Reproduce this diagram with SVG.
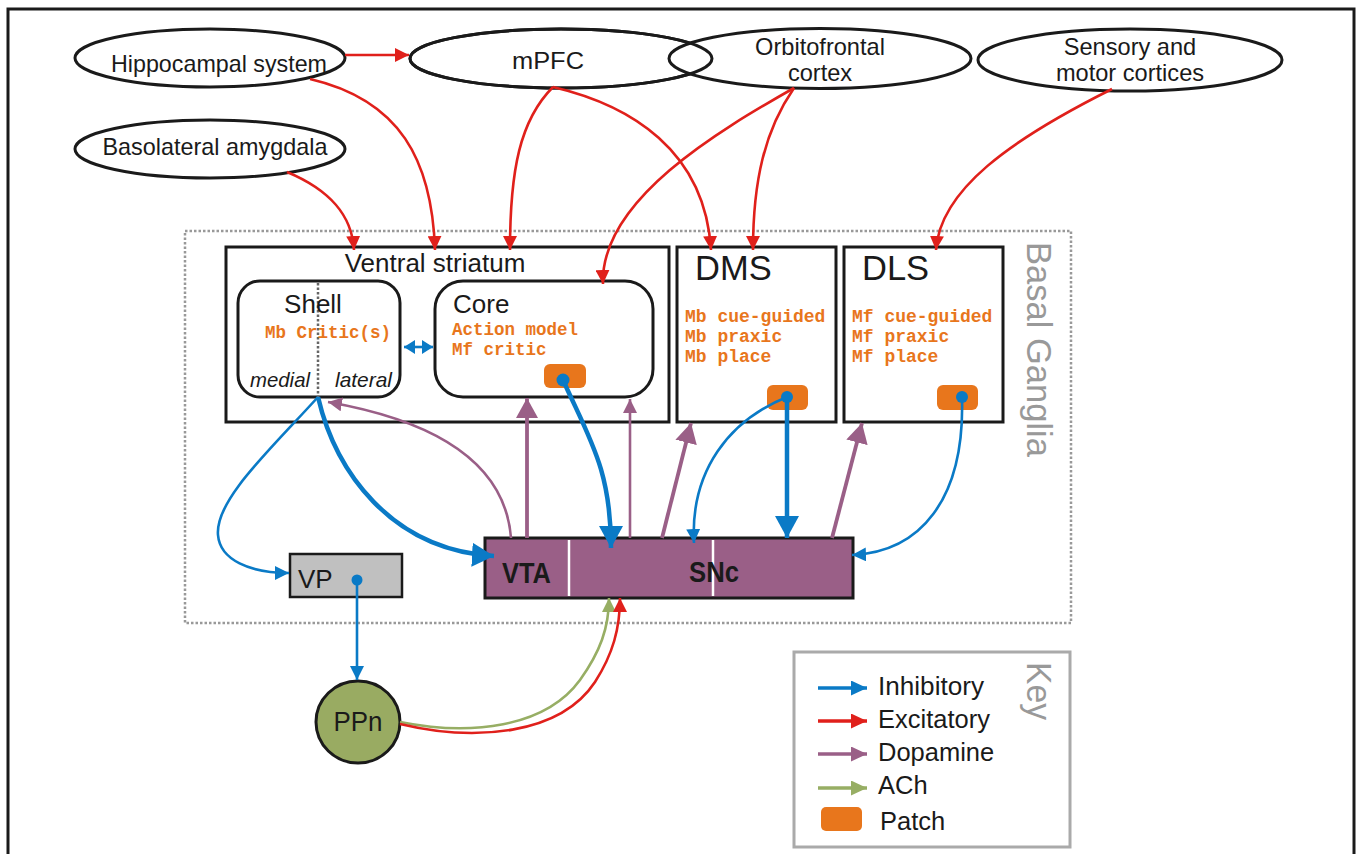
<svg xmlns="http://www.w3.org/2000/svg" width="1357" height="854" viewBox="0 0 1357 854">
<style>
.lbl{font-family:"Liberation Sans",Arial,sans-serif;fill:#1a1a1a}
.ell{fill:#fff;stroke:#1a1a1a;stroke-width:3}
.box{fill:#fff;stroke:#1a1a1a;stroke-width:3}
.mono{font-family:"Liberation Mono","Courier New",monospace;font-weight:bold;fill:#e8761c;font-size:17.5px}
.patch{fill:#e8761c}
.red{fill:none;stroke:#e0201b;stroke-width:2.6}
.blue{fill:none;stroke:#0a7ac6;stroke-width:2.6}
.blueT{fill:none;stroke:#0a7ac6;stroke-width:4.5}
.pur{fill:none;stroke:#9a5f87;stroke-width:2.6}
.purT{fill:none;stroke:#9a5f87;stroke-width:3.8}
.grn{fill:none;stroke:#97ae64;stroke-width:2.6}
.gray{fill:#999}
</style>
<defs>
<marker id="aRed" markerUnits="userSpaceOnUse" markerWidth="14" markerHeight="14" refX="14" refY="7" orient="auto"><path d="M0,0 L14,7 L0,14 z" fill="#e0201b"/></marker>
<marker id="aBlue" markerUnits="userSpaceOnUse" markerWidth="14" markerHeight="14" refX="14" refY="7" orient="auto"><path d="M0,0 L14,7 L0,14 z" fill="#0a7ac6"/></marker>
<marker id="aBlueD" markerUnits="userSpaceOnUse" markerWidth="11" markerHeight="14" refX="11" refY="7" orient="auto-start-reverse"><path d="M0,0 L11,7 L0,14 z" fill="#0a7ac6"/></marker>
<marker id="aBlueB" markerUnits="userSpaceOnUse" markerWidth="22" markerHeight="24" refX="22" refY="12" orient="auto"><path d="M0,0 L22,12 L0,24 z" fill="#0a7ac6"/></marker>
<marker id="aPur" markerUnits="userSpaceOnUse" markerWidth="14" markerHeight="14" refX="14" refY="7" orient="auto"><path d="M0,0 L14,7 L0,14 z" fill="#9a5f87"/></marker>
<marker id="aPurB" markerUnits="userSpaceOnUse" markerWidth="20" markerHeight="22" refX="20" refY="11" orient="auto"><path d="M0,0 L20,11 L0,22 z" fill="#9a5f87"/></marker>
<marker id="aGrn" markerUnits="userSpaceOnUse" markerWidth="14" markerHeight="14" refX="14" refY="7" orient="auto"><path d="M0,0 L14,7 L0,14 z" fill="#97ae64"/></marker>
<marker id="kBlue" markerUnits="userSpaceOnUse" markerWidth="16" markerHeight="15" refX="16" refY="7.5" orient="auto"><path d="M0,0 L16,7.5 L0,15 z" fill="#0a7ac6"/></marker>
<marker id="kRed" markerUnits="userSpaceOnUse" markerWidth="16" markerHeight="15" refX="16" refY="7.5" orient="auto"><path d="M0,0 L16,7.5 L0,15 z" fill="#e0201b"/></marker>
<marker id="kPur" markerUnits="userSpaceOnUse" markerWidth="16" markerHeight="15" refX="16" refY="7.5" orient="auto"><path d="M0,0 L16,7.5 L0,15 z" fill="#9a5f87"/></marker>
<marker id="kGrn" markerUnits="userSpaceOnUse" markerWidth="16" markerHeight="15" refX="16" refY="7.5" orient="auto"><path d="M0,0 L16,7.5 L0,15 z" fill="#97ae64"/></marker>
</defs>
<rect x="0" y="0" width="1357" height="854" fill="#fff"/>
<rect x="8" y="9" width="1346" height="900" fill="none" stroke="#1a1a1a" stroke-width="3"/>

<g id="basal-ganglia">
<rect x="185" y="231" width="886" height="392" fill="none" stroke="#999" stroke-width="2.5" stroke-dasharray="2.5 2"/>
<text class="lbl gray" transform="translate(1027,242) rotate(90)" font-size="35" textLength="215" lengthAdjust="spacingAndGlyphs" style="fill:#999">Basal Ganglia</text>
</g>

<g id="hippocampal">
<ellipse class="ell" cx="210" cy="58" rx="135" ry="29"/>
<text class="lbl" x="219" y="72" font-size="23.6" text-anchor="middle" textLength="216" lengthAdjust="spacingAndGlyphs">Hippocampal system</text>
</g>
<g id="mpfc">
<ellipse class="ell" cx="561" cy="58.5" rx="151" ry="29.5"/>
</g>
<g id="ofc">
<ellipse class="ell" cx="820" cy="58.5" rx="151" ry="30"/>
<text class="lbl" x="820" y="55" font-size="23.6" text-anchor="middle">Orbitofrontal</text>
<text class="lbl" x="820" y="81" font-size="23.6" text-anchor="middle">cortex</text>
</g>
<g id="mpfc-ring">
<ellipse cx="561" cy="58.5" rx="151" ry="29.5" fill="none" stroke="#1a1a1a" stroke-width="3"/>
<text class="lbl" x="548" y="69" font-size="24.5" text-anchor="middle" textLength="72" lengthAdjust="spacingAndGlyphs">mPFC</text>
</g>
<g id="sensory">
<ellipse class="ell" cx="1130" cy="60" rx="152" ry="31"/>
<text class="lbl" x="1130" y="55" font-size="23.6" text-anchor="middle">Sensory and</text>
<text class="lbl" x="1130" y="81" font-size="23.6" text-anchor="middle">motor cortices</text>
</g>
<g id="amygdala">
<ellipse class="ell" cx="210" cy="149" rx="135" ry="29"/>
<text class="lbl" x="215" y="155" font-size="23.6" text-anchor="middle" textLength="225" lengthAdjust="spacingAndGlyphs">Basolateral amygdala</text>
</g>

<g id="ventral-striatum">
<rect class="box" x="226" y="247" width="443" height="175"/>
<text class="lbl" x="435" y="272" font-size="26" text-anchor="middle">Ventral striatum</text>
</g>
<g id="shell">
<rect class="box" x="238" y="281" width="162" height="116" rx="22"/>
<line x1="318" y1="283" x2="318" y2="397" stroke="#666" stroke-width="2.5" stroke-dasharray="2.5 2"/>
<text class="lbl" x="313" y="313" font-size="26" text-anchor="middle">Shell</text>
<text class="mono" x="265" y="338">Mb Critic(s)</text>
<text class="lbl" x="250" y="387" font-size="21" font-style="italic" textLength="60" lengthAdjust="spacingAndGlyphs">medial</text>
<text class="lbl" x="335" y="387" font-size="21" font-style="italic" textLength="57" lengthAdjust="spacingAndGlyphs">lateral</text>
</g>
<g id="core">
<rect class="box" x="435" y="281" width="218" height="116" rx="28"/>
<text class="lbl" x="453" y="313" font-size="26">Core</text>
<text class="mono" x="452" y="335">Action model</text>
<text class="mono" x="452" y="355">Mf critic</text>
<rect class="patch" x="544" y="364" width="42" height="24" rx="6"/>
</g>
<g id="dms">
<rect class="box" x="677" y="247" width="159" height="175"/>
<text class="lbl" x="695" y="280" font-size="34.5">DMS</text>
<text class="mono" x="685" y="322" style="font-size:18px">Mb cue-guided</text>
<text class="mono" x="685" y="342" style="font-size:18px">Mb praxic</text>
<text class="mono" x="685" y="362" style="font-size:18px">Mb place</text>
<rect class="patch" x="767" y="385" width="41" height="25" rx="6"/>
</g>
<g id="dls">
<rect class="box" x="844" y="247" width="159" height="175"/>
<text class="lbl" x="862" y="280" font-size="34.5">DLS</text>
<text class="mono" x="852" y="322" style="font-size:18px">Mf cue-guided</text>
<text class="mono" x="852" y="342" style="font-size:18px">Mf praxic</text>
<text class="mono" x="852" y="362" style="font-size:18px">Mf place</text>
<rect class="patch" x="937" y="385" width="41" height="25" rx="6"/>
</g>
<g id="vta-snc">
<rect x="485" y="538" width="368" height="60" fill="#9a5f87" stroke="#1a1a1a" stroke-width="3"/>
<line x1="569" y1="540" x2="569" y2="596" stroke="#fff" stroke-width="2.5"/>
<line x1="713" y1="540" x2="713" y2="596" stroke="#fff" stroke-width="2.5"/>
<text class="lbl" x="502" y="583" font-size="29" font-weight="bold" textLength="49" lengthAdjust="spacingAndGlyphs">VTA</text>
<text class="lbl" x="689" y="582" font-size="29" font-weight="bold" textLength="50" lengthAdjust="spacingAndGlyphs">SNc</text>
</g>
<g id="vp">
<rect x="290" y="554" width="112" height="43" fill="#c0c0c0" stroke="#1a1a1a" stroke-width="2.5"/>
<text class="lbl" x="298" y="588" font-size="26">VP</text>
</g>
<g id="ppn">
<ellipse cx="358" cy="722" rx="42" ry="41" fill="#99ab62" stroke="#1a1a1a" stroke-width="3"/>
<text class="lbl" x="358" y="731" font-size="27" text-anchor="middle" textLength="49" lengthAdjust="spacingAndGlyphs">PPn</text>
</g>

<g id="connectors">
<path class="red" d="M345 55 L409 55" marker-end="url(#aRed)"/>
<path class="red" d="M287 172 C330 190 352 215 354 250" marker-end="url(#aRed)"/>
<path class="red" d="M310 79 C400 100 432 160 435 250" marker-end="url(#aRed)"/>
<path class="red" d="M553 87 C520 120 510 170 510 250" marker-end="url(#aRed)"/>
<path class="red" d="M553 87 C630 105 705 150 711 250" marker-end="url(#aRed)"/>
<path class="red" d="M794 88 C765 130 753 180 753 250" marker-end="url(#aRed)"/>
<path class="red" d="M794 88 C720 130 600 200 603 284" marker-end="url(#aRed)"/>
<path class="red" d="M1112 89 C1010 140 940 190 936 250" marker-end="url(#aRed)"/>
<path class="grn" d="M400 722 C470 736 545 728 580 680 C600 652 609 628 609 598" marker-end="url(#aGrn)"/>
<path class="red" d="M400 724 C475 742 560 735 595 682 C613 654 620 628 620 598" marker-end="url(#aRed)"/>
<path class="pur" d="M511 538 C505 460 430 420 328 402" marker-end="url(#aPur)"/>
<path class="purT" d="M527 538 L527 398" marker-end="url(#aPurB)"/>
<path class="pur" d="M630 538 L630 399" marker-end="url(#aPur)"/>
<path class="purT" d="M662 538 L691 423" marker-end="url(#aPurB)"/>
<path class="purT" d="M832 538 L862 423" marker-end="url(#aPurB)"/>
<path class="blue" d="M404 347 L433 347" marker-start="url(#aBlueD)" marker-end="url(#aBlueD)"/>
<path class="blue" d="M318 397 C270 450 215 500 218 535 C220 560 250 573 289 573" marker-end="url(#aBlue)"/>
<path class="blueT" d="M318 397 C335 470 390 550 494 556" marker-end="url(#aBlueB)"/>
<path class="blueT" d="M563 380 C590 440 611 470 611 548" marker-end="url(#aBlueB)"/>
<circle cx="563" cy="380" r="6.5" fill="#0a7ac6"/>
<path class="blueT" d="M787 397 L787 538" marker-end="url(#aBlueB)"/>
<path class="blue" d="M787 397 C730 420 690 470 694 543" marker-end="url(#aBlue)"/>
<circle cx="787" cy="397" r="6" fill="#0a7ac6"/>
<path class="blue" d="M962 397 C965 500 920 552 852 555" marker-end="url(#aBlue)"/>
<circle cx="962" cy="397" r="6" fill="#0a7ac6"/>
<path class="blue" d="M357 580 L357 680" marker-end="url(#aBlue)"/>
<circle cx="357" cy="580" r="5.5" fill="#0a7ac6"/>
</g>

<g id="key">
<rect x="794" y="652" width="276" height="195" fill="#fff" stroke="#aaa" stroke-width="3"/>
<text class="lbl" transform="translate(1027,662) rotate(90)" font-size="35" textLength="58" lengthAdjust="spacingAndGlyphs" style="fill:#999">Key</text>
<path d="M818 688 L867 688" stroke="#0a7ac6" stroke-width="3.5" marker-end="url(#kBlue)"/>
<path d="M818 721 L867 721" stroke="#e0201b" stroke-width="3.5" marker-end="url(#kRed)"/>
<path d="M818 754 L867 754" stroke="#9a5f87" stroke-width="3.5" marker-end="url(#kPur)"/>
<path d="M818 788 L867 788" stroke="#97ae64" stroke-width="3.5" marker-end="url(#kGrn)"/>
<rect class="patch" x="821" y="807" width="41" height="24" rx="5"/>
<text class="lbl" x="878" y="695" font-size="25.5" textLength="106" lengthAdjust="spacingAndGlyphs">Inhibitory</text>
<text class="lbl" x="878" y="728" font-size="25.5">Excitatory</text>
<text class="lbl" x="878" y="761" font-size="25.5">Dopamine</text>
<text class="lbl" x="878" y="794" font-size="25.5">ACh</text>
<text class="lbl" x="880" y="830" font-size="25.5">Patch</text>
</g>
</svg>
